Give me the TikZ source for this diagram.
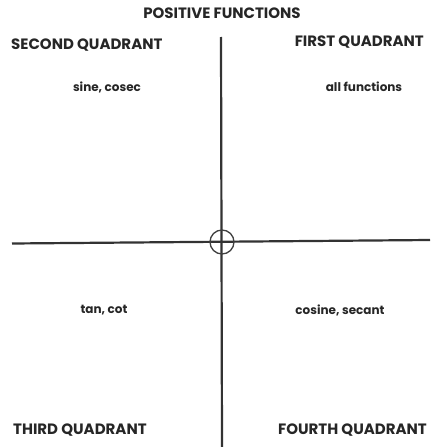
\documentclass[tikz,border=0pt]{standalone}
\usepackage{fontspec}
\setmainfont{Poppins}
\begin{document}
\begin{tikzpicture}[x=1pt,y=-1pt,
  big/.style={font=\fontsize{15}{16}\selectfont\bfseries, text=black!85, inner sep=0pt},
  small/.style={font=\fontsize{12}{13}\selectfont\bfseries, text=black!85, inner sep=0pt},
  axis/.style={draw=black!80, line width=2.2pt}]
\useasboundingbox (0,0) rectangle (437,447);
\node[big] (title) at (222,13) {POSITIVE FUNCTIONS};
\node[big, anchor=west] (q2) at (11,45) {SECOND QUADRANT};
\node[big, anchor=east] (q1) at (424,42) {FIRST QUADRANT};
\node[big, anchor=west] (q3) at (13,430) {THIRD QUADRANT};
\node[big, anchor=east] (q4) at (427,430) {FOURTH QUADRANT};
\node[small] (s2) at (107,87) {sine, cosec};
\node[small] (s1) at (364,87) {all functions};
\node[small] (s3) at (104,310) {tan, cot};
\node[small] (s4) at (340,310) {cosine, secant};
\coordinate (o) at (222,242);
\coordinate (top) at (221,37);
\coordinate (bot) at (222,447);
\coordinate (left) at (12,243.5);
\coordinate (right) at (430,240);
\draw[axis] (top) -- (bot);
\draw[axis] (left) -- (right);
\draw[draw=black!75, line width=1.3pt] (o) circle (12);
\end{tikzpicture}
\end{document}
